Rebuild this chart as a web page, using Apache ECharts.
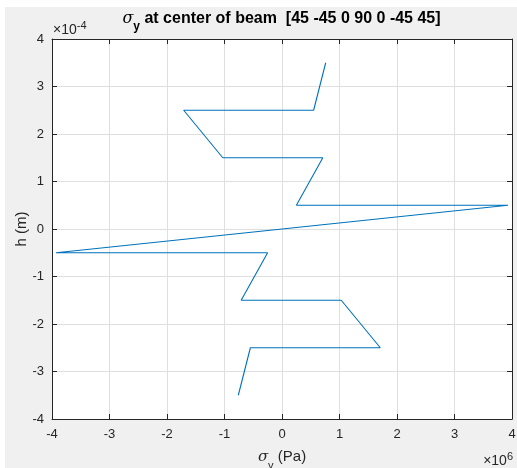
<!DOCTYPE html>
<html>
<head>
<meta charset="utf-8">
<script src="https://cdn.jsdelivr.net/npm/echarts@6/dist/echarts.min.js"></script>
<style>
  html, body { margin: 0; padding: 0; background: #ffffff; overflow: hidden; }
  #main { position: absolute; left: 0; top: 0; width: 517px; height: 468px; }
  .strip { position: absolute; background: #ffffff; }
</style>
</head>
<body>
<div id="main"></div>
<div class="strip" style="left:0;top:0;width:5px;height:468px;"></div>
<div class="strip" style="left:0;top:0;width:517px;height:7px;"></div>
<script>
// sigma_y in units of 1e6 Pa, h in units of 1e-4 m (as the axis multipliers show)
var sigmaY = [0.76, 0.55, -1.71, -1.03, 0.71, 0.25, 3.93, -3.93, -0.25, -0.71, 1.03, 1.71, -0.55, -0.76];
var heights = [3.5, 2.5, 2.5, 1.5, 1.5, 0.5, 0.5, -0.5, -0.5, -1.5, -1.5, -2.5, -2.5, -3.5];
var xTicks = [-4, -3, -2, -1, 0, 1, 2, 3, 4];
var yTicks = [-4, -3, -2, -1, 0, 1, 2, 3, 4];

var pts = [];
for (var i = 0; i < sigmaY.length; i++) {
    pts.push([sigmaY[i], heights[i]]);
}

var chart = echarts.init(document.getElementById('main'));

var txt = '#262626';
var font = '"Liberation Sans", Arial, Helvetica, sans-serif';

function axis(pos, ticks, labels) {
    var a = {
        type: 'value',
        position: pos,
        min: ticks[0],
        max: ticks[ticks.length - 1],
        interval: ticks[1] - ticks[0],
        nameMoveOverlap: false,
        axisLine: { show: true, onZero: false, lineStyle: { color: txt, width: 1 } },
        axisTick: { show: true, inside: true, length: 5, lineStyle: { color: txt, width: 1 } },
        splitLine: { show: labels, lineStyle: { color: '#dfdfdf', width: 1 } },
        axisLabel: { show: labels, color: txt, fontFamily: font, fontSize: 13, margin: 9 }
    };
    return a;
}

var xBottom = axis('bottom', xTicks, true);
xBottom.name = '{s|σ}{sub|y}{n| (Pa)}';
xBottom.nameLocation = 'middle';
xBottom.nameGap = 24;
xBottom.nameTextStyle = {
    rich: {
        s: { fontFamily: '"DejaVu Serif", serif', fontStyle: 'italic', fontSize: 15, color: txt, lineHeight: 28 },
        sub: { fontFamily: font, fontSize: 11, color: txt, lineHeight: 12, verticalAlign: 'bottom' },
        n: { fontFamily: font, fontSize: 15, color: txt, lineHeight: 28 }
    }
};
var yLeft = axis('left', yTicks, true);
yLeft.axisLabel.margin = 8;
yLeft.name = 'h (m)';
yLeft.nameLocation = 'middle';
yLeft.nameGap = 23;
yLeft.nameTextStyle = { fontFamily: font, fontSize: 15, color: txt };

var option = {
    backgroundColor: '#f0f0f0',
    animation: false,
    grid: {
        left: 52, right: 5, top: 39, bottom: 49,
        outerBoundsMode: 'none',
        containLabel: false,
        show: true, backgroundColor: '#ffffff', borderWidth: 0
    },
    xAxis: [xBottom, axis('top', xTicks, false)],
    yAxis: [yLeft, axis('right', yTicks, false)],
    series: [{
        type: 'line',
        data: pts,
        xAxisIndex: 0,
        yAxisIndex: 0,
        showSymbol: false,
        symbol: 'none',
        lineStyle: { color: '#0072BD', width: 1.1 },
        itemStyle: { color: '#0072BD' }
    }],
    graphic: [
        {   // title
            type: 'text',
            x: 281.5, y: 5,
            style: {
                text: '{s|σ}{sub|y}{b| at center of beam  [45 -45 0 90 0 -45 45]}',
                align: 'center', textAlign: 'center',
                verticalAlign: 'top', textVerticalAlign: 'top',
                rich: {
                    s: { fontFamily: '"DejaVu Serif", serif', fontStyle: 'italic', fontSize: 16, fill: '#000', lineHeight: 28 },
                    sub: { fontFamily: font, fontWeight: 'bold', fontSize: 12, fill: '#000', lineHeight: 12, verticalAlign: 'bottom' },
                    b: { fontFamily: font, fontWeight: 'bold', fontSize: 16, fill: '#000', lineHeight: 28 }
                }
            }
        },
        {   // y multiplier
            type: 'text',
            x: 53, y: 20,
            style: {
                text: '{n|×10}{e|-4}',
                align: 'left', verticalAlign: 'top',
                rich: {
                    n: { fontFamily: font, fontSize: 14, fill: txt, lineHeight: 20 },
                    e: { fontFamily: font, fontSize: 11, fill: txt, lineHeight: 10, verticalAlign: 'top' }
                }
            }
        },
        {   // x multiplier
            type: 'text',
            x: 513, y: 451,
            style: {
                text: '{n|×10}{e|6}',
                align: 'right', verticalAlign: 'top',
                rich: {
                    n: { fontFamily: font, fontSize: 14, fill: txt, lineHeight: 20 },
                    e: { fontFamily: font, fontSize: 11, fill: txt, lineHeight: 10, verticalAlign: 'top' }
                }
            }
        }
    ]
};

chart.setOption(option);
</script>
</body>
</html>
